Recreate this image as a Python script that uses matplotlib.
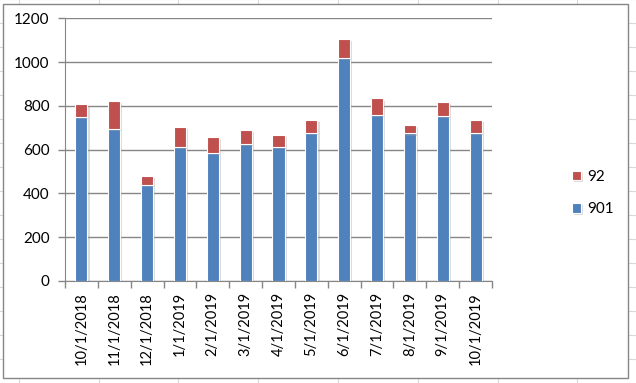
import matplotlib.pyplot as plt
import matplotlib.patheffects as pe
from matplotlib.lines import Line2D
from matplotlib.patches import Rectangle

dates = ["10/1/2018", "11/1/2018", "12/1/2018", "1/1/2019", "2/1/2019", "3/1/2019",
         "4/1/2019", "5/1/2019", "6/1/2019", "7/1/2019", "8/1/2019", "9/1/2019", "10/1/2019"]
s901 = [750, 693, 438, 613, 583, 624, 613, 677, 1017, 758, 674, 754, 677]
s92 = [58, 129, 43, 90, 75, 66, 54, 58, 87, 76, 39, 62, 58]

plt.rcParams['font.family'] = ['Lato', 'DejaVu Sans']

W, H = 636, 383
fig = plt.figure(figsize=(W / 100, H / 100), dpi=100)

# spreadsheet cell grid behind the chart
for x in [19, 99, 178, 258, 338, 418, 498, 577]:
    fig.add_artist(Line2D([x / W, x / W], [0, 1], color="#d9d9d9", lw=0.8, zorder=0))
for y in range(-1, H, 24):
    yy = 1 - y / H
    fig.add_artist(Line2D([0, 1], [yy, yy], color="#d9d9d9", lw=0.8, zorder=0))

# chart area
fig.add_artist(Rectangle((3 / W, 1 - 378 / H), (628 - 3) / W, (378 - 4) / H,
                         facecolor="white", edgecolor="#868686", lw=1, zorder=1))

ax = fig.add_axes([65 / W, 1 - 281 / H, (492 - 65) / W, (281 - 18.3) / H], zorder=2)
ax.patch.set_alpha(0)

x = list(range(len(dates)))
shadow = [pe.SimplePatchShadow(offset=(1.5, -1.5), shadow_rgbFace="#999999", alpha=0.35), pe.Normal()]
b1 = ax.bar(x, s901, width=0.37, color="#4F81BD", edgecolor="white", lw=0.8, label="901", zorder=3)
b2 = ax.bar(x, s92, width=0.37, bottom=s901, color="#C0504D", edgecolor="white", lw=0.8, label="92", zorder=3)
for b in list(b1) + list(b2):
    b.set_path_effects(shadow)

ax.set_ylim(0, 1200)
ax.set_yticks(range(0, 1201, 200))
ax.set_xlim(-0.5, len(dates) - 0.5)
ax.set_xticks([i - 0.5 for i in range(len(dates) + 1)])
ax.set_xticklabels([])
ax.set_xticks(x, minor=True)
ax.set_xticklabels(dates, minor=True, rotation=90, fontsize=10.5)
ax.tick_params(axis="x", which="major", length=5, color="#868686", width=1)
ax.tick_params(axis="x", which="minor", length=0, pad=8)
ax.tick_params(axis="y", length=5, color="#868686", width=1, labelsize=11, pad=6)

ax.yaxis.grid(True, color="#868686", lw=1)
ax.set_axisbelow(True)
for s in ["top", "right"]:
    ax.spines[s].set_visible(False)
for s in ["left", "bottom"]:
    ax.spines[s].set_color("#868686")

ax.legend([b2, b1], ["92", "901"], loc="center left", bbox_to_anchor=(1.155, 0.335),
          frameon=False, fontsize=11, handlelength=0.6, handleheight=0.6,
          handletextpad=0.4, labelspacing=1.2)

fig.savefig("out.png", dpi=100)
